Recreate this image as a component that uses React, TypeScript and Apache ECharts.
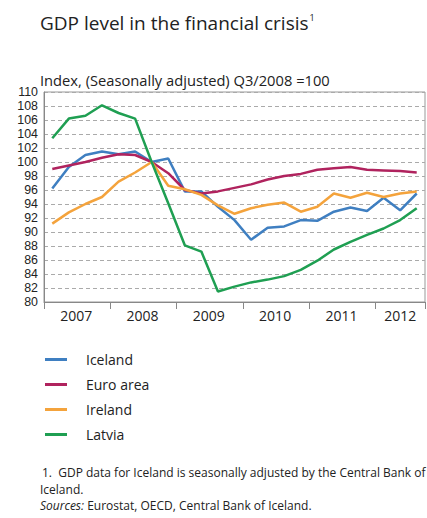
import React, { useEffect, useRef } from "react";
import * as echarts from "echarts";

const quarters = [
  "2007Q1", "2007Q2", "2007Q3", "2007Q4",
  "2008Q1", "2008Q2", "2008Q3", "2008Q4",
  "2009Q1", "2009Q2", "2009Q3", "2009Q4",
  "2010Q1", "2010Q2", "2010Q3", "2010Q4",
  "2011Q1", "2011Q2", "2011Q3", "2011Q4",
  "2012Q1", "2012Q2", "2012Q3",
];

const iceland = [96.2, 99.3, 101.0, 101.5, 101.1, 101.5, 100, 100.5, 95.8, 95.8, 93.6, 91.7, 88.9, 90.6, 90.8, 91.7, 91.6, 92.9, 93.5, 93.0, 94.9, 93.1, 95.5];
const euroArea = [99.0, 99.5, 100.0, 100.6, 101.1, 101.0, 100, 98.4, 96.0, 95.5, 95.8, 96.3, 96.8, 97.5, 98.0, 98.3, 98.9, 99.1, 99.3, 98.9, 98.8, 98.7, 98.5];
const ireland = [91.2, 92.8, 94.0, 95.0, 97.2, 98.5, 100, 96.6, 96.1, 95.3, 93.8, 92.6, 93.4, 93.9, 94.2, 92.9, 93.6, 95.5, 94.9, 95.6, 95.0, 95.5, 95.8];
const latvia = [103.4, 106.2, 106.6, 108.1, 107.0, 106.2, 100, 94.1, 88.1, 87.2, 81.5, 82.2, 82.8, 83.2, 83.7, 84.6, 85.9, 87.5, 88.6, 89.6, 90.5, 91.7, 93.4];

const seriesNames = ["Iceland", "Euro area", "Ireland", "Latvia"];
const seriesColors = ["#3f7fc1", "#b0235e", "#f4a33c", "#1f9f52"];

const titleText = "GDP level in the financial crisis";
const subtitleText = "Index, (Seasonally adjusted) Q3/2008 =100";
const footnote1 = "1.  GDP data for Iceland is seasonally adjusted by the Central Bank of";
const footnote2 = "Iceland.";
const sourcesLabel = "Sources:";
const sourcesText = " Eurostat, OECD, Central Bank of Iceland.";

const FONT = "'Open Sans', 'Noto Sans', sans-serif";
const TICK_FONT = "'Liberation Sans', Arial, sans-serif";

export default function App() {
  const ref = useRef<HTMLDivElement>(null);

  useEffect(() => {
    if (!ref.current) return;
    const chart = echarts.init(ref.current, undefined, { renderer: "svg" });
    const dataSets = [iceland, euroArea, ireland, latvia];
    chart.setOption({
      animation: false,
      backgroundColor: "#ffffff",
      textStyle: { fontFamily: FONT },
      title: {
        text: titleText + "{sup|1}",
        left: 40,
        top: 13,
        padding: 0,
        textStyle: {
          fontFamily: FONT,
          fontSize: 19,
          fontWeight: "normal",
          color: "#222",
          rich: {
            sup: { fontSize: 9, verticalAlign: "top", padding: [0, 0, 9, 1], color: "#222", fontFamily: FONT },
          },
        },
      },
      grid: {
        left: 44,
        right: 2,
        top: 92,
        bottom: 216,
        show: true,
        borderColor: "#999",
        borderWidth: 1,
        containLabel: false,
      },
      legend: {
        orient: "vertical",
        left: 40,
        top: 345,
        icon: "rect",
        itemWidth: 22,
        itemHeight: 3,
        itemGap: 6,
        data: seriesNames,
        textStyle: { fontFamily: FONT, fontSize: 14, color: "#222", padding: [0, 0, 0, 14], height: 19, lineHeight: 19 },
      },
      xAxis: {
        type: "category",
        data: quarters,
        boundaryGap: true,
        axisLine: { lineStyle: { color: "#888", width: 1 } },
        axisTick: {
          show: true,
          length: 7,
          interval: (i: number) => i % 4 === 0,
          lineStyle: { color: "#888" },
        },
        axisLabel: {
          interval: (i: number) => i % 4 === 1,
          margin: 6,
          formatter: (v: string) => {
            const y = v.slice(0, 4);
            return y === "2012" ? "{c|" + y + "}" : "{s|" + y + "}";
          },
          rich: {
            s: { fontFamily: FONT, fontSize: 14, color: "#222", padding: [0, 0, 0, 15] },
            c: { fontFamily: FONT, fontSize: 14, color: "#222" },
          },
        },
        splitLine: { show: false },
      },
      yAxis: {
        type: "value",
        min: 80,
        max: 110,
        interval: 2,
        axisLine: { show: true, lineStyle: { color: "#888" } },
        axisTick: { show: false },
        axisLabel: { fontFamily: TICK_FONT, fontSize: 12.4, lineHeight: 13, color: "#222", margin: 6 },
        splitLine: { show: true, lineStyle: { color: "#aaa", type: [4, 3], width: 1 } },
      },
      series: seriesNames.map((name, k) => ({
        name,
        type: "line",
        data: dataSets[k],
        symbol: "none",
        lineStyle: { color: seriesColors[k], width: 2.5 },
        itemStyle: { color: seriesColors[k] },
        z: 2 + k,
      })),
      graphic: [
        {
          type: "text",
          left: 40,
          top: 72,
          style: { text: subtitleText, fontFamily: FONT, fontSize: 14.7, fill: "#222" },
        },
        {
          type: "text",
          left: 42,
          top: 466,
          style: { text: footnote1, fontFamily: FONT, fontSize: 12, fill: "#222" },
        },
        {
          type: "text",
          left: 40,
          top: 483,
          style: { text: footnote2, fontFamily: FONT, fontSize: 12, fill: "#222" },
        },
        {
          type: "text",
          left: 40,
          top: 499,
          style: {
            text: "{i|" + sourcesLabel + "}" + sourcesText,
            fontFamily: FONT,
            fontSize: 12,
            fill: "#222",
            rich: { i: { fontStyle: "italic", fontFamily: FONT, fontSize: 12, fill: "#222" } },
          },
        },
      ],
    });
    return () => chart.dispose();
  }, []);

  return <div ref={ref} style={{ width: 427, height: 518, position: "absolute", left: 0, top: 0 }} />;
}
